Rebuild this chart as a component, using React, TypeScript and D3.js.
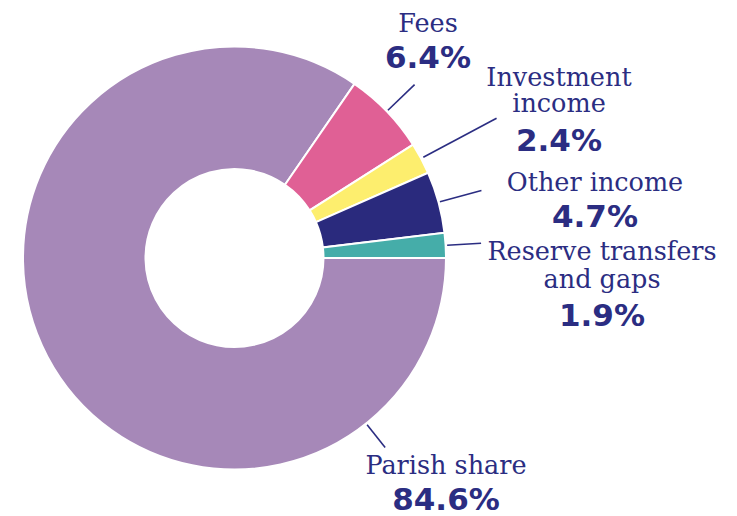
import React from "react";
import * as d3 from "d3";

const categories = ["Parish share", "Fees", "Investment income", "Other income", "Reserve transfers and gaps"];
const values = [84.6, 6.4, 2.4, 4.7, 1.9];
const valueLabels = ["84.6%", "6.4%", "2.4%", "4.7%", "1.9%"];
const nameLines = [["Parish share"], ["Fees"], ["Investment", "income"], ["Other income"], ["Reserve transfers", "and gaps"]];
const colors = ["#A688B8", "#E06095", "#FDEE6E", "#2A2A7D", "#45ADA9"];

const W = 737, H = 516;
const cx = 234.5, cy = 258;
const outerR = 211.5, innerR = 89;
const navy = "#2B2D82";

// label layout: leader angle override (deg, clockwise from top), leader radii, text center x, first baseline y
const labelLayout = [
  { angle: 141.5, r1: 213, r2: 242, x: 446, y: 474, lineGap: 27, pctGap: 36 },
  { angle: null, r1: 213, r2: 250, x: 428, y: 32, lineGap: 27, pctGap: 36 },
  { angle: null, r1: 214, r2: 297, x: 559, y: 86, lineGap: 26, pctGap: 39 },
  { angle: null, r1: 213, r2: 256, x: 595, y: 191, lineGap: 27, pctGap: 36 },
  { angle: null, r1: 213, r2: 247, x: 602, y: 260, lineGap: 28, pctGap: 38 },
];

export default function App() {
  const pie = d3.pie<number>().sort(null).startAngle(Math.PI / 2).endAngle(Math.PI / 2 + 2 * Math.PI);
  const arcs = pie(values);
  const arc = d3.arc<d3.PieArcDatum<number>>().innerRadius(innerR).outerRadius(outerR);

  return (
    <svg width={W} height={H} style={{ position: "absolute", left: 0, top: 0, background: "#fff" }}>
      <g transform={`translate(${cx},${cy})`}>
        {arcs.map((a, i) => (
          <path key={i} d={arc(a) || ""} fill={colors[i]} stroke="#fff" strokeWidth={2} />
        ))}
        {arcs.map((a, i) => {
          const L = labelLayout[i];
          const ang = L.angle !== null ? (L.angle * Math.PI) / 180 : (a.startAngle + a.endAngle) / 2;
          const x1 = Math.sin(ang) * L.r1, y1 = -Math.cos(ang) * L.r1;
          const x2 = Math.sin(ang) * L.r2, y2 = -Math.cos(ang) * L.r2;
          return <line key={"l" + i} x1={x1} y1={y1} x2={x2} y2={y2} stroke={navy} strokeWidth={1.6} />;
        })}
      </g>
      {categories.map((c, i) => {
        const L = labelLayout[i];
        const lines = nameLines[i];
        return (
          <g key={"t" + i} fill={navy} textAnchor="middle">
            {lines.map((ln, j) => (
              <text key={j} x={L.x} y={L.y + j * L.lineGap} fontFamily="DejaVu Serif" fontSize={25.5}>
                {ln}
              </text>
            ))}
            <text x={L.x} y={L.y + (lines.length - 1) * L.lineGap + L.pctGap} fontFamily="DejaVu Sans" fontWeight="bold" fontSize={31}>
              {valueLabels[i]}
            </text>
          </g>
        );
      })}
    </svg>
  );
}
